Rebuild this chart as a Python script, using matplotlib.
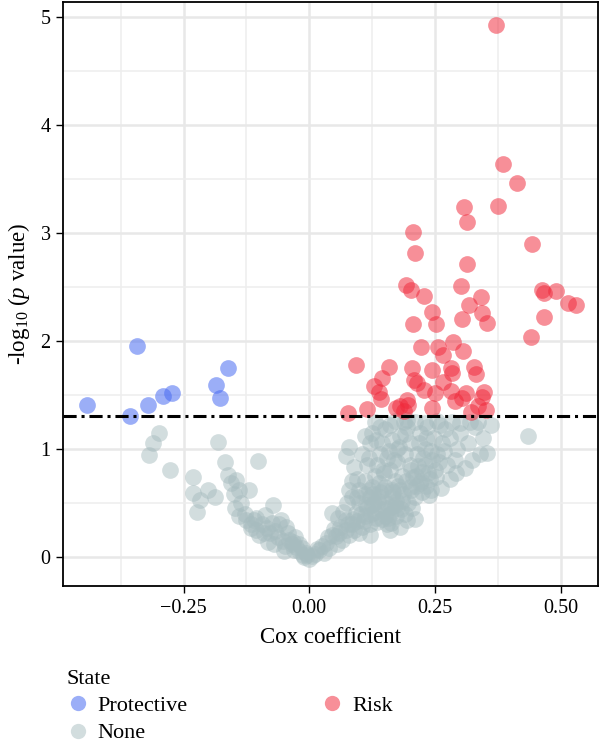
import numpy as np
import matplotlib
matplotlib.use("Agg")
import matplotlib.pyplot as plt
from matplotlib.lines import Line2D

plt.rcParams['font.family'] = ['Liberation Serif', 'DejaVu Serif']
plt.rcParams['mathtext.fontset'] = 'custom'
plt.rcParams['mathtext.rm'] = 'Liberation Serif'
plt.rcParams['mathtext.it'] = 'Liberation Serif:italic'

# data: (Cox coefficient, -log10 p)
prot_x = [-0.343, -0.161, -0.185, -0.177, -0.274, -0.292, -0.321, -0.442, -0.357]
prot_y = [1.95, 1.75, 1.59, 1.47, 1.52, 1.49, 1.41, 1.41, 1.30]

risk_x = [0.371, 0.385, 0.413, 0.308, 0.375, 0.313, 0.206, 0.210, 0.444, 0.313,
          0.192, 0.202, 0.302, 0.228, 0.341, 0.464, 0.468, 0.492, 0.514, 0.530,
          0.317, 0.244, 0.343, 0.468, 0.252, 0.206, 0.304, 0.353, 0.442, 0.286,
          0.222, 0.256, 0.306, 0.266, 0.093, 0.159, 0.204, 0.244, 0.282, 0.327,
          0.284, 0.331, 0.145, 0.208, 0.214, 0.129, 0.139, 0.228, 0.250, 0.282,
          0.311, 0.347, 0.304, 0.343, 0.143, 0.194, 0.077, 0.115, 0.173, 0.188,
          0.244, 0.321, 0.351, 0.180, 0.197, 0.291, 0.267, 0.335]
risk_y = [4.93, 3.64, 3.46, 3.24, 3.25, 3.10, 3.01, 2.81, 2.90, 2.71,
          2.52, 2.47, 2.51, 2.42, 2.41, 2.47, 2.44, 2.46, 2.35, 2.33,
          2.33, 2.27, 2.26, 2.22, 2.16, 2.16, 2.20, 2.17, 2.04, 1.99,
          1.94, 1.94, 1.91, 1.87, 1.78, 1.76, 1.75, 1.73, 1.75, 1.76,
          1.70, 1.69, 1.66, 1.64, 1.61, 1.58, 1.53, 1.55, 1.52, 1.54,
          1.52, 1.53, 1.47, 1.48, 1.46, 1.45, 1.33, 1.37, 1.38, 1.35,
          1.38, 1.34, 1.36, 1.40, 1.41, 1.44, 1.62, 1.40]

none_x = [-0.298, -0.310, -0.319, -0.278, -0.181, -0.232, -0.167, -0.161, -0.145, -0.202,
          -0.232, -0.218, -0.188, -0.224, -0.139, -0.147, -0.125, -0.155, -0.150, -0.135,
          -0.119, -0.101, -0.128, -0.115, -0.105, -0.140,
          -0.109, -0.089, -0.073, -0.105, -0.079, -0.056, -0.046, -0.040, -0.026, -0.006,
          -0.010, 0.000, -0.095, -0.085, -0.068, -0.062, -0.052, -0.035, -0.030, -0.020,
          -0.015, -0.060, -0.075, -0.090, -0.100, -0.115, -0.082, -0.070, -0.048, -0.042,
          -0.028, -0.020, -0.012, -0.050,
          0.005, 0.012, 0.020, 0.034, 0.053, 0.073, 0.073, 0.093, 0.046, 0.040,
          0.030, 0.055, 0.060, 0.065, 0.080, 0.085, 0.090, 0.095, 0.100, 0.045,
          0.025, 0.068, 0.075, 0.085, 0.080, 0.079, 0.073, 0.090, 0.085, 0.095,
          0.100, 0.100,
          0.105, 0.110, 0.115, 0.120, 0.120, 0.125, 0.130, 0.130, 0.135, 0.140,
          0.140, 0.145, 0.110, 0.115, 0.120, 0.125, 0.130, 0.105, 0.110, 0.145,
          0.150, 0.150, 0.118, 0.138, 0.128, 0.148,
          0.155, 0.160, 0.163, 0.165, 0.170, 0.170, 0.175, 0.175, 0.180, 0.180,
          0.185, 0.190, 0.190, 0.194, 0.195, 0.160, 0.165, 0.155, 0.160, 0.185,
          0.200, 0.200, 0.200, 0.172, 0.188,
          0.205, 0.210, 0.213, 0.215, 0.220, 0.224, 0.225, 0.230, 0.230, 0.235,
          0.238, 0.242, 0.245, 0.248, 0.210, 0.220, 0.240, 0.250,
          0.255, 0.262, 0.265, 0.270, 0.275, 0.280, 0.285, 0.292, 0.295, 0.260,
          0.280, 0.290, 0.300,
          0.310, 0.323, 0.315, 0.330, 0.340, 0.353, 0.361, 0.345, 0.320, 0.435,
          0.140, 0.150, 0.170, 0.195, 0.230, 0.255, 0.300, 0.335, 0.180, 0.210,
          0.120, 0.135, 0.160, 0.175, 0.150, 0.125, 0.110, 0.095, 0.140, 0.165,
          # extra points in the dense right-hand body
          0.108, 0.113, 0.122, 0.127, 0.133, 0.137, 0.142, 0.147, 0.152, 0.157,
          0.162, 0.167, 0.172, 0.177, 0.182, 0.187, 0.192, 0.197, 0.202, 0.207,
          0.212, 0.217, 0.222, 0.227, 0.232, 0.237, 0.243, 0.252, 0.258, 0.268,
          0.118, 0.132, 0.146, 0.158, 0.168, 0.178, 0.190, 0.203, 0.218, 0.233,
          0.102, 0.088, 0.078, 0.062, 0.058, 0.050, 0.038, 0.015, -0.004, -0.032]
none_y = [1.15, 1.05, 0.94, 0.80, 1.06, 0.74, 0.88, 0.76, 0.71, 0.62,
          0.59, 0.53, 0.55, 0.42, 0.62, 0.45, 0.34, 0.68, 0.58, 0.50,
          0.62, 0.89, 0.40, 0.30, 0.36, 0.38,
          0.34, 0.39, 0.48, 0.25, 0.22, 0.34, 0.28, 0.16, 0.09, 0.04,
          0.00, -0.02, 0.30, 0.27, 0.24, 0.18, 0.15, 0.12, 0.06, 0.05,
          0.08, 0.30, 0.31, 0.22, 0.20, 0.27, 0.14, 0.12, 0.10, 0.22,
          0.18, 0.12, 0.02, 0.05,
          0.01, 0.03, 0.06, 0.13, 0.19, 0.25, 0.34, 0.41, 0.41, 0.08,
          0.04, 0.12, 0.22, 0.16, 0.20, 0.30, 0.25, 0.33, 0.22, 0.20,
          0.10, 0.42, 0.50, 0.55, 0.62, 1.02, 0.93, 0.83, 0.70, 0.72,
          0.50, 0.62,
          0.28, 0.38, 0.45, 0.55, 0.30, 0.65, 0.75, 0.42, 0.85, 0.95,
          0.55, 0.35, 0.70, 0.85, 1.05, 1.15, 1.25, 0.95, 1.12, 1.05,
          0.65, 0.45, 0.62, 0.68, 0.50, 0.78,
          0.30, 0.40, 0.31, 0.55, 0.70, 0.48, 0.88, 1.00, 1.12, 0.62,
          0.75, 0.40, 0.95, 0.34, 1.20, 1.22, 1.08, 0.92, 0.80, 0.52,
          0.65, 0.85, 1.05, 0.38, 1.25,
          0.45, 0.55, 0.75, 0.95, 1.15, 0.79, 0.60, 1.00, 0.85, 1.20,
          0.57, 0.62, 0.90, 1.10, 1.25, 0.68, 0.72, 0.80,
          0.95, 0.64, 1.05, 1.18, 0.85, 0.72, 1.25, 0.78, 1.00, 1.22,
          1.10, 0.90, 1.15,
          0.82, 0.90, 1.05, 1.20, 0.95, 0.96, 1.22, 1.10, 1.25, 1.12,
          1.20, 1.18, 1.26, 1.27, 1.24, 1.26, 1.24, 1.25, 0.28, 0.35,
          0.20, 0.32, 0.25, 0.45, 0.38, 0.48, 0.58, 0.55, 0.60, 0.62,
          0.33, 0.48, 0.40, 0.58, 0.36, 0.52, 0.44, 0.62, 0.50, 0.36,
          0.46, 0.60, 0.52, 0.66, 0.44, 0.58, 0.70, 0.50, 0.62, 0.74,
          0.66, 0.84, 0.70, 0.92, 0.66, 0.78, 0.98, 0.74, 0.88, 0.98,
          0.92, 1.08, 0.80, 0.98, 0.90, 1.02, 1.14, 0.80, 1.05, 1.10,
          0.40, 0.35, 0.30, 0.28, 0.36, 0.26, 0.18, 0.07, 0.02, 0.14]

cut = -np.log10(0.05)
grey = '#A7BCBF'
red = '#F0283A'
blue = '#4A6CF2'

fig = plt.figure(figsize=(6, 7.47), dpi=100)
ax = fig.add_axes([0.105, 0.2155, 0.892, 0.782])

ax.scatter(none_x, none_y, s=145, color=grey, alpha=0.5, linewidths=0, zorder=3)
ax.scatter(risk_x, risk_y, s=145, color=red, alpha=0.52, linewidths=0, zorder=3)
ax.scatter(prot_x, prot_y, s=145, color=blue, alpha=0.55, linewidths=0, zorder=3)
ax.axhline(cut, color='black', lw=2.2, linestyle=(0, (4.3, 1.6, 1.0, 1.6)), zorder=4)

ax.set_xlim(-0.49, 0.575)
ax.set_ylim(-0.27, 5.14)
ax.set_xticks([-0.25, 0.0, 0.25, 0.5])
ax.set_xticklabels(['\u22120.25', '0.00', '0.25', '0.50'])
ax.set_yticks([0, 1, 2, 3, 4, 5])
ax.set_xticks([-0.375, -0.125, 0.125, 0.375], minor=True)
ax.set_yticks([0.5, 1.5, 2.5, 3.5, 4.5], minor=True)
ax.grid(True, which='major', color='#E8E8E8', lw=1.8, zorder=0)
ax.grid(True, which='minor', color='#EEEEEE', lw=1.1, zorder=0)
ax.set_axisbelow(True)
ax.tick_params(which='major', direction='out', length=5, width=1, labelsize=14.5,
               colors='black', pad=4)
ax.tick_params(which='minor', length=0)
for sp in ax.spines.values():
    sp.set_linewidth(1.3)
    sp.set_color('black')

ax.set_xlabel('Cox coefficient', fontsize=16.5, labelpad=7)
ax.set_ylabel('-log$_{10}$ ($\\mathit{p}$ value)', fontsize=16.5, labelpad=6)

handles = [Line2D([], [], marker='o', ls='', ms=11, color=blue, alpha=0.55, mew=0),
           Line2D([], [], marker='o', ls='', ms=11, color=grey, alpha=0.5, mew=0),
           Line2D([], [], marker='o', ls='', ms=11, color=red, alpha=0.52, mew=0)]
fig.legend(handles, ['Protective', 'None', 'Risk'], loc='upper left',
           bbox_to_anchor=(0.085, 0.124), ncol=2, frameon=False, title='State',
           alignment='left', fontsize=16, title_fontsize=16, columnspacing=6.0,
           handletextpad=0.4, handlelength=1.0, labelspacing=0.3, borderaxespad=0.3)

fig.savefig('out.png', dpi=100)
